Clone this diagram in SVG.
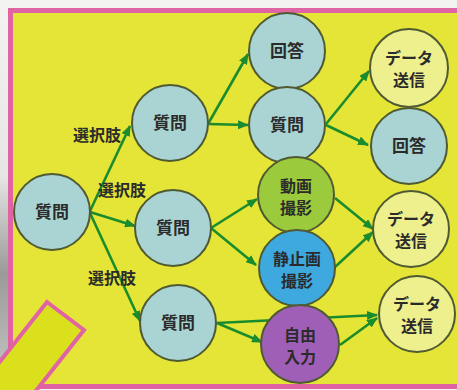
<svg xmlns="http://www.w3.org/2000/svg" width="457" height="390" viewBox="0 0 457 390">
<defs>
<linearGradient id="side" x1="0" y1="0" x2="0" y2="1">
<stop offset="0" stop-color="#f3f3f1"/>
<stop offset="0.45" stop-color="#e6e6e4"/>
<stop offset="0.7" stop-color="#9a9a98"/>
<stop offset="1" stop-color="#c8c8c6"/>
</linearGradient>
<marker id="ah" markerUnits="userSpaceOnUse" markerWidth="11" markerHeight="9" refX="10" refY="4.5" orient="auto">
<path d="M0,0 L11,4.5 L0,9 Z" fill="#1b8c2e"/>
</marker>
<style>
.edge{stroke:#1b8c2e;stroke-width:2.6;fill:none;marker-end:url(#ah)}
.n{stroke:#4f5a33;stroke-width:2}
.q{fill:#a9d4d3}
.d{fill:#eef08e}
.t{font-family:"Noto Sans CJK JP","Noto Sans",sans-serif;font-weight:bold;font-size:17px;fill:#2b2b2b;text-anchor:middle}
.t2{font-family:"Noto Sans CJK JP","Noto Sans",sans-serif;font-weight:bold;font-size:16px;fill:#2b2b2b;text-anchor:middle}
.l{font-family:"Noto Sans CJK JP","Noto Sans",sans-serif;font-weight:bold;font-size:16px;fill:#2b2b2b;text-anchor:middle}
</style>
</defs>
<rect x="0" y="0" width="457" height="390" fill="#f3f3f1"/>
<rect x="0" y="0" width="10" height="390" fill="url(#side)"/>
<rect x="10.5" y="10.5" width="460" height="376" fill="#e4e536" stroke="#e063a4" stroke-width="5"/>
<polygon points="47,302 84,330 16,416 -21,388" fill="#dbe01c" stroke="#e063a4" stroke-width="4"/>

<g id="connectors">
<line class="edge" x1="90" y1="211" x2="130" y2="126"/>
<line class="edge" x1="90" y1="212" x2="135" y2="226"/>
<line class="edge" x1="90" y1="213" x2="140" y2="321"/>
<line class="edge" x1="208" y1="124" x2="248" y2="54"/>
<line class="edge" x1="208" y1="124" x2="248" y2="125"/>
<line class="edge" x1="326" y1="124" x2="369" y2="71"/>
<line class="edge" x1="326" y1="125" x2="368" y2="145"/>
<line class="edge" x1="211" y1="228" x2="257" y2="199"/>
<line class="edge" x1="211" y1="228" x2="256" y2="265"/>
<line class="edge" x1="335" y1="198" x2="373" y2="229"/>
<line class="edge" x1="335" y1="267" x2="373" y2="232"/>
<line class="edge" x1="217" y1="323" x2="262" y2="342"/>
<line class="edge" x1="217" y1="323" x2="377" y2="315"/>
<line class="edge" x1="340" y1="345" x2="377" y2="318"/>
</g>

<g id="label1"><text class="l" x="97" y="141">選択肢</text></g>
<g id="label2"><text class="l" x="122" y="196">選択肢</text></g>
<g id="label3"><text class="l" x="112" y="284">選択肢</text></g>

<g id="q1"><circle class="n q" cx="52" cy="212" r="38"/><text class="t" x="52" y="218">質問</text></g>
<g id="q2"><circle class="n q" cx="170" cy="123" r="38"/><text class="t" x="170" y="129">質問</text></g>
<g id="q3"><circle class="n q" cx="173" cy="228" r="38"/><text class="t" x="173" y="234">質問</text></g>
<g id="q4"><circle class="n q" cx="178" cy="323" r="38"/><text class="t" x="178" y="329">質問</text></g>
<g id="a1"><circle class="n q" cx="287" cy="51" r="38"/><text class="t" x="287" y="57">回答</text></g>
<g id="q5"><circle class="n q" cx="287" cy="125" r="38"/><text class="t" x="287" y="131">質問</text></g>
<g id="video"><circle class="n" fill="#9bcb3c" cx="296" cy="195" r="38"/><text class="t2" x="296" y="192">動画</text><text class="t2" x="296" y="214">撮影</text></g>
<g id="photo"><circle class="n" fill="#3ea9df" cx="297" cy="268" r="38"/><text class="t2" x="297" y="265">静止画</text><text class="t2" x="297" y="287">撮影</text></g>
<g id="free"><circle class="n" fill="#a05fb6" cx="300" cy="344" r="39"/><text class="t2" x="300" y="341">自由</text><text class="t2" x="300" y="363">入力</text></g>
<g id="send1"><circle class="n d" cx="409" cy="68" r="39"/><text class="t2" x="409" y="64">データ</text><text class="t2" x="409" y="86">送信</text></g>
<g id="a2"><circle class="n q" cx="409" cy="146" r="38"/><text class="t" x="409" y="152">回答</text></g>
<g id="send2"><circle class="n d" cx="411" cy="229" r="38"/><text class="t2" x="411" y="225">データ</text><text class="t2" x="411" y="247">送信</text></g>
<g id="send3"><circle class="n d" cx="417" cy="314" r="38"/><text class="t2" x="417" y="310">データ</text><text class="t2" x="417" y="332">送信</text></g>
</svg>
